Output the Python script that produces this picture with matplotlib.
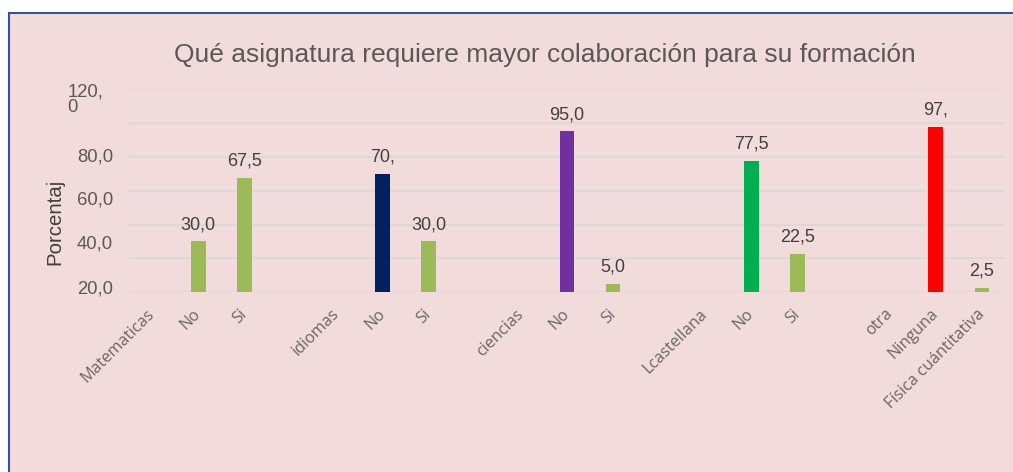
import matplotlib
matplotlib.use("Agg")
import matplotlib.pyplot as plt
from matplotlib.patches import Rectangle

# datos
TITLE = "Qué asignatura requiere mayor colaboración para su formación"
CATEGORIES = ["Matematicas", "No", "Si", "", "idiomas", "No", "Si", "",
              "ciencias", "No", "Si", "", "Lcastellana", "No", "Si", "",
              "otra", "Ninguna", "Física cuántitativa"]
VALUES = [None, 30.0, 67.5, None, None, 70.0, 30.0, None,
          None, 95.0, 5.0, None, None, 77.5, 22.5, None,
          None, 97.5, 2.5]
VALUE_LABELS = [None, "30,0", "67,5", None, None, "70,", "30,0", None,
                None, "95,0", "5,0", None, None, "77,5", "22,5", None,
                None, "97,", "2,5"]
BAR_COLORS = [None, "#9BBB59", "#9BBB59", None, None, "#002060", "#9BBB59", None,
              None, "#7030A0", "#9BBB59", None, None, "#00B050", "#9BBB59", None,
              None, "#FF0000", "#9BBB59"]
YTICK_LABELS = ["20,0", "40,0", "60,0", "80,0"]
YTICK_TOP = "120,\n0"
YLABEL = "Porcentaj"

PINK = "#F2DCDB"
GRAY = "#595959"
FONT = "Liberation Sans"

W, H = 1013, 472
fig = plt.figure(figsize=(W / 100, H / 100), dpi=100, facecolor="white")

# fondo del grafico con borde azul
fig.patches.append(Rectangle((8.5 / W, -0.02), 1.2, 1 - 12.5 / H + 0.02,
                             transform=fig.transFigure, facecolor=PINK,
                             edgecolor="#2F5597", linewidth=1.5, zorder=-10))

ax = fig.add_axes([129 / W, 1 - 292.3 / H, 876 / W, (292.3 - 89) / H])
ax.set_zorder(2)
ax.set_facecolor(PINK)
for s in ax.spines.values():
    s.set_visible(False)

x = list(range(len(CATEGORIES)))
for i, v in enumerate(VALUES):
    if v is None:
        continue
    ax.bar(i, v, width=0.32, color=BAR_COLORS[i], zorder=3)
    ax.annotate(VALUE_LABELS[i], (i, v), xytext=(0, 6), textcoords="offset points",
                ha="center", va="bottom", fontsize=13, color="#404040", family=FONT)

ax.set_xlim(-0.5, len(CATEGORIES) - 0.5)
ax.set_ylim(0, 120)
ax.set_yticks(range(0, 121, 20))
ax.set_yticklabels([])
ax.yaxis.grid(True, color="#D9D9D9", linewidth=1.3, zorder=0)
ax.tick_params(axis="y", length=0)

ax.set_xticks(x)
ax.set_xticklabels(CATEGORIES, rotation=45, ha="right", va="center",
                   rotation_mode="anchor", fontsize=11.6, color="#666666",
                   family="Open Sans")
ax.tick_params(axis="x", length=0, pad=14)

# etiquetas del eje y (tal como aparecen, desplazadas)
ytr = ax.get_yaxis_transform()
for lab, pos in zip(YTICK_LABELS, [2, 28.5, 54.5, 80]):
    ax.text(-0.018, pos, lab, transform=ytr, ha="right", va="center",
            fontsize=13.3, color=GRAY, family=FONT)
ax.text(-0.07, 113.5, YTICK_TOP, transform=ytr, ha="left", va="center",
        fontsize=13.3, color=GRAY, family=FONT, linespacing=0.9)

fig.text(55 / W, 1 - 222 / H, YLABEL, rotation=90, ha="center", va="center",
         fontsize=14.7, color="#404040", family=FONT)
fig.text(545 / W, 1 - 55 / H, TITLE, ha="center", va="center",
         fontsize=19, color=GRAY, family=FONT)

fig.savefig("out.png", dpi=100, facecolor="white")
